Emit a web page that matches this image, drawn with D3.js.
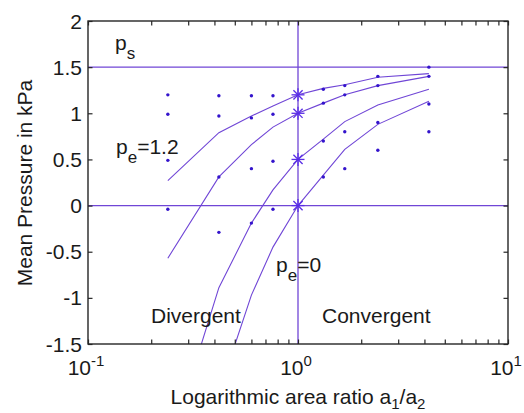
<!DOCTYPE html>
<html>
<head>
<meta charset="utf-8">
<script src="https://cdn.jsdelivr.net/npm/d3@7"></script>
<style>
  html, body { margin: 0; padding: 0; background: #fff; }
  svg { display: block; font-family: "Liberation Sans", Arial, sans-serif; }
</style>
</head>
<body>
<svg id="chart" width="524" height="413"></svg>
<script>
// Area ratios a1/a2 at which pressures were computed / measured
const curveRatios = [0.24, 0.42, 0.6, 0.76, 1, 1.32, 1.67, 2.4, 4.2];
const dotRatios = [0.24, 0.42, 0.6, 0.76, 1.32, 1.67, 2.4, 4.2];

// Computed mean-pressure curves (kPa), one per exit pressure
const curveA = [0.27, 0.79, 0.97, 1.08, 1.2, 1.27, 1.31, 1.39, 1.43];
const curveB = [-0.57, 0.31, 0.66, 0.85, 1.0, 1.11, 1.20, 1.30, 1.40];
const curveC = [-2.67, -0.89, -0.19, 0.17, 0.5, 0.72, 0.91, 1.09, 1.26];
const curveD = [null, -2.03, -0.97, -0.45, 0, 0.33, 0.61, 0.88, 1.13];

// Measured points (kPa)
const dotsA = [1.2, 1.19, 1.19, 1.19, 1.26, 1.30, 1.40, 1.50];
const dotsB = [0.99, 0.97, 0.95, 0.99, 1.11, 1.20, 1.30, 1.40];
const dotsC = [0.49, 0.31, 0.40, 0.48, 0.70, 0.80, 0.90, 1.10];
const dotsD = [-0.04, -0.29, -0.19, -0.04, 0.31, 0.40, 0.60, 0.80];

// Equal-area reference points (ratio = 1)
const starRatio = 1;
const starValues = [1.2, 1.0, 0.5, 0];

// Reference levels
const supplyPressure = 1.5;
const zeroLevel = 0;

const yTicks = [-1.5, -1, -0.5, 0, 0.5, 1, 1.5, 2];
const yTickLabels = ["-1.5", "-1", "-0.5", "0", "0.5", "1", "1.5", "2"];
const xMajor = [0.1, 1, 10];
const xExponents = ["-1", "0", "1"];

const lineColor = "#7046d6";
const dotColor = "#3414cc";
const textColor = "#1a1a1a";

const svg = d3.select("#chart");
const L = 88, R = 508, T = 21, B = 344;

const x = d3.scaleLog().domain([0.1, 10]).range([L, R]);
const y = d3.scaleLinear().domain([-1.5, 2]).range([B, T]);

svg.append("defs").append("clipPath").attr("id", "plotClip")
  .append("rect").attr("x", L).attr("y", T).attr("width", R - L).attr("height", B - T);

const plot = svg.append("g").attr("clip-path", "url(#plotClip)");

// Reference lines
plot.append("line").attr("x1", L).attr("x2", R)
  .attr("y1", y(supplyPressure)).attr("y2", y(supplyPressure))
  .attr("stroke", lineColor).attr("stroke-width", 1.3);
plot.append("line").attr("x1", L).attr("x2", R)
  .attr("y1", y(zeroLevel)).attr("y2", y(zeroLevel))
  .attr("stroke", lineColor).attr("stroke-width", 1.3);
plot.append("line").attr("x1", x(1)).attr("x2", x(1))
  .attr("y1", T).attr("y2", B)
  .attr("stroke", lineColor).attr("stroke-width", 1.3);

// Curves
const line = d3.line()
  .defined(d => d[1] !== null)
  .x(d => x(d[0])).y(d => y(d[1]));
[curveA, curveB, curveC, curveD].forEach(c => {
  plot.append("path")
    .datum(curveRatios.map((r, i) => [r, c[i]]))
    .attr("d", line)
    .attr("fill", "none")
    .attr("stroke", lineColor)
    .attr("stroke-width", 1.1);
});

// Measured dots
[dotsA, dotsB, dotsC, dotsD].forEach(s => {
  plot.selectAll(null)
    .data(dotRatios.map((r, i) => [r, s[i]]))
    .enter().append("circle")
    .attr("cx", d => x(d[0])).attr("cy", d => y(d[1]))
    .attr("r", 1.7).attr("fill", dotColor);
});

// Star markers at ratio 1
const starSize = 6.5;
const starArms = [[1, 0], [0, 1], [0.707, 0.707], [0.707, -0.707]];
starValues.forEach(v => {
  const cx = x(starRatio), cy = y(v);
  const g = plot.append("g");
  starArms.forEach(([dx, dy]) => {
    g.append("line")
      .attr("x1", cx - dx * starSize).attr("y1", cy - dy * starSize)
      .attr("x2", cx + dx * starSize).attr("y2", cy + dy * starSize)
      .attr("stroke", "#5a2ee6").attr("stroke-width", 1.3);
  });
});

// Axes box
svg.append("rect").attr("x", L).attr("y", T).attr("width", R - L).attr("height", B - T)
  .attr("fill", "none").attr("stroke", "#262626").attr("stroke-width", 1.4);

// X ticks (log, inward) on bottom and top
const xMinor = [];
[0.1, 1].forEach(dec => { for (let k = 2; k <= 9; k++) xMinor.push(dec * k); });
const xAllTicks = xMajor.concat(xMinor);
const tickLen = 4.5;
const xAxisBottom = d3.axisBottom(x).tickValues(xAllTicks).tickSize(-tickLen).tickFormat("");
const xAxisTop = d3.axisTop(x).tickValues(xAllTicks).tickSize(-tickLen).tickFormat("");
const yAxisLeft = d3.axisLeft(y).tickValues(yTicks).tickSize(-tickLen).tickFormat("");
const yAxisRight = d3.axisRight(y).tickValues(yTicks).tickSize(-tickLen).tickFormat("");

function styleAxis(g) {
  g.select(".domain").remove();
  g.selectAll(".tick line").attr("stroke", "#262626").attr("stroke-width", 1.2);
}
svg.append("g").attr("transform", `translate(0,${B})`).call(xAxisBottom).call(styleAxis);
svg.append("g").attr("transform", `translate(0,${T})`).call(xAxisTop).call(styleAxis);
svg.append("g").attr("transform", `translate(${L},0)`).call(yAxisLeft).call(styleAxis);
svg.append("g").attr("transform", `translate(${R},0)`).call(yAxisRight).call(styleAxis);

// Y tick labels
svg.append("g").selectAll("text")
  .data(yTicks)
  .enter().append("text")
  .attr("x", 82).attr("y", d => y(d) + 7.5)
  .attr("text-anchor", "end")
  .attr("font-size", 21).attr("fill", textColor)
  .text((d, i) => yTickLabels[i]);

// X tick labels with exponents
xMajor.forEach((v, i) => {
  const t = svg.append("text")
    .attr("x", x(v) - 2).attr("y", 375)
    .attr("text-anchor", "middle")
    .attr("font-size", 21).attr("fill", textColor);
  t.append("tspan").text("10");
  t.append("tspan").attr("font-size", 15).attr("dy", -9).text(xExponents[i]);
});

// Axis titles
const xt = svg.append("text").attr("x", 298).attr("y", 404)
  .attr("text-anchor", "middle").attr("font-size", 21).attr("fill", textColor);
xt.append("tspan").text("Logarithmic area ratio a");
xt.append("tspan").attr("font-size", 15).attr("dy", 5).text("1");
xt.append("tspan").attr("dy", -5).text("/a");
xt.append("tspan").attr("font-size", 15).attr("dy", 5).text("2");

svg.append("text")
  .attr("transform", "translate(32,183) rotate(-90)")
  .attr("text-anchor", "middle").attr("font-size", 21).attr("fill", textColor)
  .text("Mean Pressure in kPa");

// In-plot annotations
function subLabel(px, py, main, sub, rest) {
  const t = svg.append("text").attr("x", px).attr("y", py)
    .attr("font-size", 21).attr("fill", textColor);
  t.append("tspan").text(main);
  t.append("tspan").attr("font-size", 17).attr("dy", 9).text(sub);
  if (rest) t.append("tspan").attr("dy", -9).text(rest);
}
subLabel(115, 50, "p", "s");
subLabel(116, 154, "p", "e", "=1.2");
subLabel(276, 272, "p", "e", "=0");

svg.append("text").attr("x", 151).attr("y", 322.5)
  .attr("font-size", 21).attr("fill", textColor).text("Divergent");
svg.append("text").attr("x", 322).attr("y", 322.5)
  .attr("font-size", 21).attr("fill", textColor).text("Convergent");
</script>
</body>
</html>
